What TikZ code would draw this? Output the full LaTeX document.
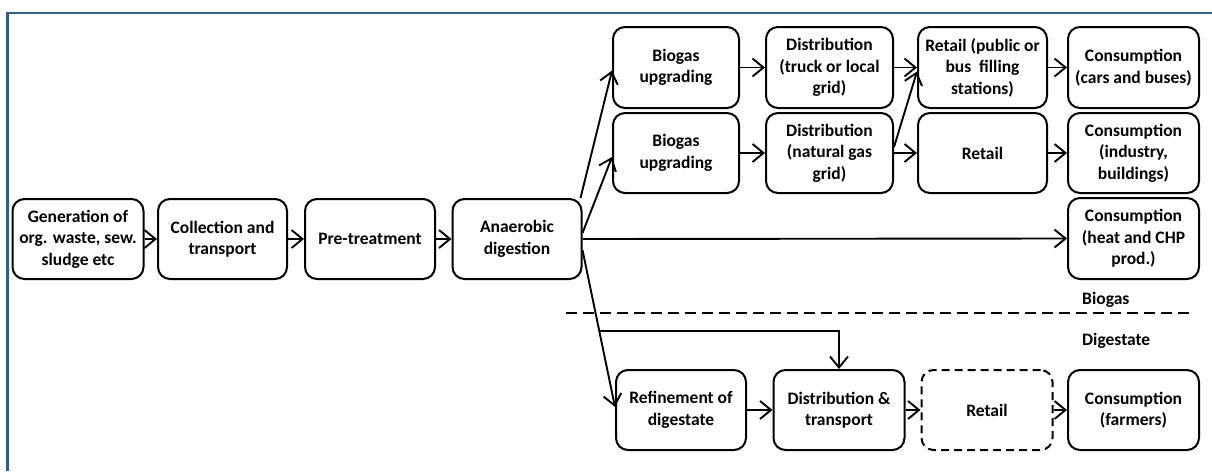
\documentclass[tikz,border=0pt]{standalone}
\usepackage{fontspec}
\setmainfont{Carlito}
\usetikzlibrary{arrows.meta,calc}
\definecolor{framecol}{RGB}{46,94,140}
\begin{document}
\begin{tikzpicture}[x=1pt,y=-1pt,
  every node/.style={font=\fontsize{17.5}{21.5}\selectfont\bfseries},
  stage/.style={draw, line width=2pt, rounded corners=12pt, align=center,
    minimum height=80pt, inner sep=2pt},
  dstage/.style={stage, dash pattern=on 8pt off 5pt},
  arr/.style={line width=1.9pt, -{Straight Barb[length=11pt,width=18pt,line width=1.9pt]}},
  lbl/.style={anchor=west, inner sep=0pt}
]
\useasboundingbox (0,0) rectangle (1212,471);
% frame
\draw[framecol, line width=2.5pt] (7.5,471) -- (7.5,13) -- (1212,13);

% main chain
\node[stage, minimum width=131pt] (gen) at (78,239) {Generation of\\org. waste, sew.\\sludge etc};
\node[stage, minimum width=129pt] (col) at (222.5,239) {Collection and\\transport};
\node[stage, minimum width=130pt] (pre) at (370,239) {Pre-treatment};
\node[stage, minimum width=129pt] (ad) at (517,239) {Anaerobic\\digestion};

% biogas rows
\node[stage, minimum width=126pt, minimum height=81pt] (bu1) at (676,67.5) {Biogas\\upgrading};
\node[stage, minimum width=127pt, minimum height=81pt] (d1) at (829.5,67.5) {Distribution\\(truck or local\\grid)};
\node[stage, minimum width=129pt, minimum height=81pt] (r1) at (982.5,67.5) {Retail (public or\\bus\ \ filling\\stations)};
\node[stage, minimum width=131pt, minimum height=81pt] (c1) at (1133.5,67.5) {Consumption\\(cars and buses)};

\node[stage, minimum width=126pt] (bu2) at (676,153) {Biogas\\upgrading};
\node[stage, minimum width=127pt] (d2) at (829.5,153) {Distribution\\(natural gas\\grid)};
\node[stage, minimum width=129pt] (r2) at (982.5,153) {Retail};
\node[stage, minimum width=131pt] (c2) at (1133.5,153) {Consumption\\(industry,\\buildings)};

\node[stage, minimum width=131pt, minimum height=81pt] (c3) at (1133.5,238.5) {Consumption\\(heat and CHP\\prod.)};

% digestate row
\node[stage, minimum width=130pt] (rf) at (681,410) {Refinement of\\digestate};
\node[stage, minimum width=131pt] (dt) at (839,410) {Distribution \&\\transport};
\node[dstage, minimum width=131pt] (rt) at (987,410) {Retail};
\node[stage, minimum width=131pt] (cf) at (1133.5,410) {Consumption\\(farmers)};

% separator and labels
\draw[line width=1.9pt, dash pattern=on 11pt off 6pt] (566,313) -- (1195,313);
\node[lbl] (lbio) at (1082,300) {Biogas};
\node[lbl] (ldig) at (1082,341) {Digestate};

% connectors main chain
\draw[arr] (gen.east) -- (col.west);
\draw[arr] (col.east) -- (pre.west);
\draw[arr] (pre.east) -- (ad.west);
\draw[arr] (ad.east) -- (c3.west);
\draw[arr] ([xshift=-2pt]ad.north east) -- ([yshift=-3pt]bu1.west);
\draw[arr] ([yshift=6pt]ad.east) -- ([yshift=-4pt]bu2.west);
\draw[arr] ([yshift=-11pt]ad.east) -- coordinate[pos=0.516] (j) ([yshift=3pt]rf.west);
\draw[arr] (j) -| (dt.north);

% biogas connectors
\draw[arr] (bu1.east) -- (d1.west);
\draw[arr] (bu2.east) -- (d2.west);
\draw[arr] (d1.east) -- (r1.west);
\draw[arr] ([yshift=6pt]d2.east) -- ([yshift=-4pt]r1.west);
\draw[arr] (d2.east) -- (r2.west);
\draw[arr] (r1.east) -- (c1.west);
\draw[arr] (r2.east) -- (c2.west);

% digestate connectors
\draw[arr] (rf.east) -- (dt.west);
\draw[arr] (dt.east) -- (rt.west);
\draw[arr] (rt.east) -- (cf.west);
\end{tikzpicture}
\end{document}
